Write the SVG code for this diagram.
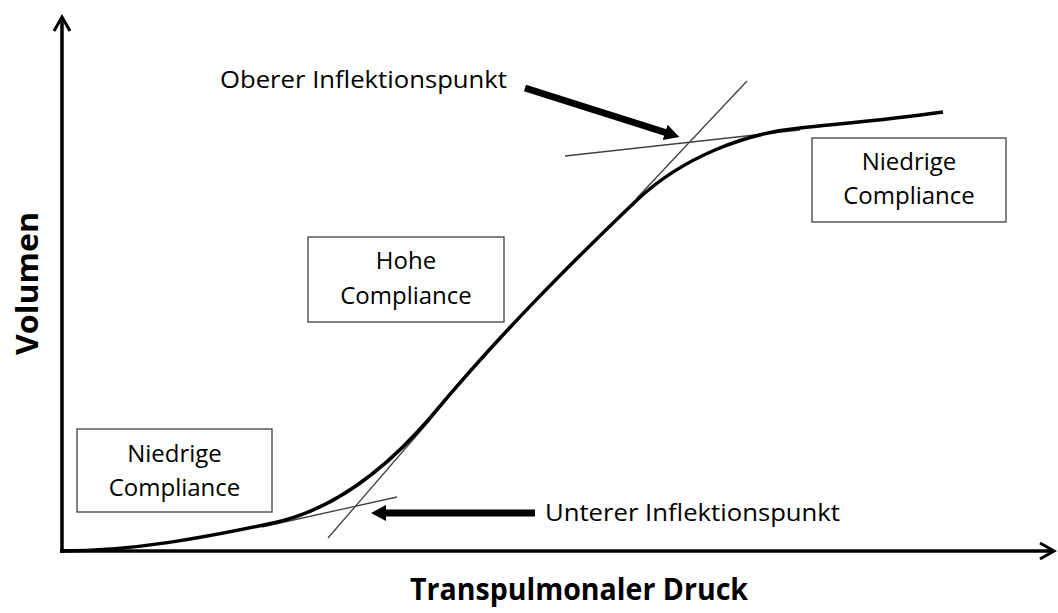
<svg xmlns="http://www.w3.org/2000/svg" width="1058" height="613" viewBox="0 0 1058 613">
<style>
  .lbl { font-family: "Open Sans", "Liberation Sans", sans-serif; font-size: 24px; fill: #000; }
  .ttl { font-family: "Open Sans", "Liberation Sans", sans-serif; font-size: 31px; font-weight: bold; fill: #000; }
  .box { fill: #fff; stroke: #404040; stroke-width: 1.3; }
  .axis { stroke: #000; stroke-width: 3.5; fill: none; }
  .thin { stroke: #404040; stroke-width: 1.3; fill: none; }
  .curve { stroke: #000; stroke-width: 3.5; fill: none; }
  .fat { stroke: #000; stroke-width: 7; fill: none; }
</style>
<defs>
  <marker id="open" markerUnits="userSpaceOnUse" markerWidth="24" markerHeight="24" viewBox="-20 -12 24 24" refX="0" refY="0" orient="auto">
    <path d="M-14,-8 L0,0 L-14,8" fill="none" stroke="#000" stroke-width="3"/>
  </marker>
  <marker id="solid" markerUnits="userSpaceOnUse" markerWidth="20" markerHeight="20" viewBox="0 -10 20 20" refX="2" refY="0" orient="auto">
    <path d="M0,-8 L15,0 L0,8 Z" fill="#000"/>
  </marker>
</defs>
<rect width="1058" height="613" fill="#fff"/>

<g id="axes">
  <path class="axis" d="M62,553 L62,17" marker-end="url(#open)"/>
  <path class="axis" d="M60,551 L1054,551" marker-end="url(#open)"/>
</g>

<g id="connectors">
  <path class="thin" d="M262,527 L397,497"/>
  <path class="thin" d="M328,538 L430,420"/>
  <path class="thin" d="M565,156 L800,130"/>
  <path class="thin" d="M637,198 L747,81"/>
  <path class="curve" d="M62,551 C132,551 203,538 273,523 C325,512 378,478 430,418 C499,335 568,266 637,200 C683,157 746,133 800,128 C848,123 895,119 943,112"/>
  <path class="fat" d="M525,88 L667,133" marker-end="url(#solid)"/>
  <path class="fat" d="M535,513 L384,513" marker-end="url(#solid)"/>
</g>

<g id="node-low-left">
  <rect class="box" x="77" y="429" width="195" height="83"/>
  <text class="lbl" x="174.5" y="462" text-anchor="middle">Niedrige</text>
  <text class="lbl" x="174.5" y="496" text-anchor="middle">Compliance</text>
</g>

<g id="node-high">
  <rect class="box" x="308" y="237" width="196" height="85"/>
  <text class="lbl" x="406" y="269" text-anchor="middle">Hohe</text>
  <text class="lbl" x="406" y="304" text-anchor="middle">Compliance</text>
</g>

<g id="node-low-right">
  <rect class="box" x="812" y="138" width="194" height="84"/>
  <text class="lbl" x="909" y="170" text-anchor="middle">Niedrige</text>
  <text class="lbl" x="909" y="204" text-anchor="middle">Compliance</text>
</g>

<g id="label-upper">
  <text class="lbl" x="220" y="88" textLength="287" lengthAdjust="spacingAndGlyphs">Oberer Inflektionspunkt</text>
</g>
<g id="label-lower">
  <text class="lbl" x="545" y="521" textLength="295" lengthAdjust="spacingAndGlyphs">Unterer Inflektionspunkt</text>
</g>

<g id="title-x">
  <text class="ttl" x="410" y="600" textLength="338" lengthAdjust="spacingAndGlyphs">Transpulmonaler Druck</text>
</g>
<g id="title-y">
  <text class="ttl" x="0" y="0" transform="translate(38,355) rotate(-90)" textLength="143" lengthAdjust="spacingAndGlyphs">Volumen</text>
</g>
</svg>
